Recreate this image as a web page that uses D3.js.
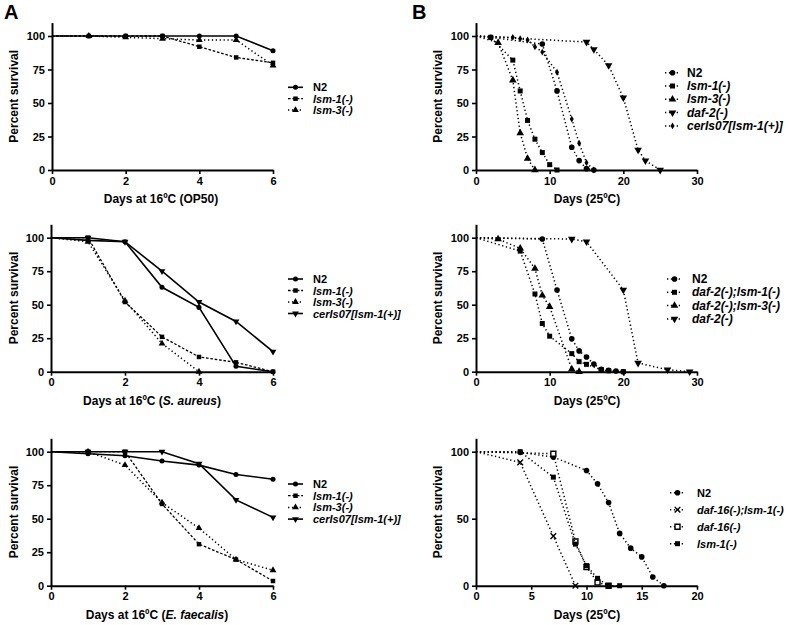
<!DOCTYPE html>
<html><head><meta charset="utf-8">
<script src="https://cdn.jsdelivr.net/npm/d3@7"></script>
<style>
body{margin:0;background:#fff;}
svg{font-family:"Liberation Sans",Arial,sans-serif;font-weight:bold;}
</style></head><body>
<svg id="c" width="789" height="625"></svg>
<script>
// ---------- DATA ----------
// Panel A1 (OP50)
const a1Days = [0,1,2,3,4,5,6];
const a1N2   = [100,100,100,100,100,100,89];
const a1Lsm1 = [100,100,100,100,92,84,80];
const a1Lsm3 = [100,100,99,98,97,97,78];
// Panel A2 (S. aureus)
const a2Days    = [0,1,2,3,4,5,6];
const a2N2      = [100,98,97,63,48,4,0];
const a2Lsm1    = [100,100,52,26,11,7,0];
const a2Lsm3Days= [0,1,2,3,4];
const a2Lsm3    = [100,97,53,21,0];
const a2Cer     = [100,100,97,75,52,37.5,15];
// Panel A3 (E. faecalis)
const a3Days = [0,1,2,3,4,5,6];
const a3N2   = [100,98.5,97,93,90,83,79.5];
const a3Lsm1 = [100,100,100,61,31,19.5,3.5];
const a3Lsm3 = [100,100,90,62,43,19.5,11.5];
const a3Cer  = [100,100,100,100,91,64,51];
// Panel B1
const b1N2Days   = [0,2,9,11,13,14,15,16];
const b1N2       = [100,99,94,59,17,7,1,0];
const b1Lsm1Days = [0,2,5,6,7,8,9,10,11];
const b1Lsm1     = [100,99,82,59,37,23,13,4,0];
const b1Lsm3Days = [0,3,5,6,7,8];
const b1Lsm3     = [100,95,67,27.5,8.5,0];
const b1Daf2Days = [0,15,16,18,20,22,23,25];
const b1Daf2     = [100,95.5,90,78,54,15,7,0];
const b1CerDays  = [0,5,6,7,8,9,11,13,14,15,16];
const b1Cer      = [100,99,98,97,92,88,73,38,20,5.5,0];
// Panel B2
const b2N2Days     = [0,9,11,13,14,15,16,17,18,19,20];
const b2N2         = [100,99,61,24.5,15.5,11,5.7,1.7,1,0.5,0];
const b2D2L1Days   = [0,6,8,9,10,13,14,15,17,18,20];
const b2D2L1       = [100,90,58,36,26.5,13.5,7.5,5.5,1.5,0.7,0];
const b2D2L3Days   = [0,3,6,8,9,10,13,14];
const b2D2L3       = [100,99,92,77,57,48.5,2,0];
const b2Daf2Days   = [0,13,15,20,22,26,29];
const b2Daf2       = [100,99,97,61,6.5,1.5,0];
// Panel B3
const b3N2Days     = [0,4,7,10,11,12,13,14,15,16,17];
const b3N2         = [100,99.5,96,86,76,62,39,28,21.5,6.5,0];
const b3D16L1Days  = [0,4,7,9];
const b3D16L1      = [100,92,37,0];
const b3D16Days    = [0,7,9,10,11,12];
const b3D16        = [100,98.5,33,14,2.5,0];
const b3Lsm1Days   = [0,4,7,9,10,11,12,13];
const b3Lsm1       = [100,100,81,31,15,5.5,0,0];

// tick labels
const yTicks4 = [0,25,50,75,100];
const yTicks2 = [0,50,100];
const xTicksA = [0,2,4,6];
const xTicksB = [0,10,20,30];
const xTicksB3 = [0,5,10,15,20];

// ---------- DRAW ----------
const svg = d3.select("#c");
const zip = (d,v)=>d.map((x,i)=>[x,v[i]]);

const S = {
  solid:{dash:null,w:1.6},
  dashed:{dash:"2.6,1.8",w:1.3},
  dotted:{dash:"1.3,2.6",w:1.5}
};
const SYM = {
  circle:d3.symbolCircle, square:d3.symbolSquare, up:d3.symbolTriangle,
  down:d3.symbolTriangle, diamond:d3.symbolDiamond, x:d3.symbolX, open:d3.symbolSquare
};
function marker(g,type,cx,cy,size){
  let sz = size;
  if(type==="x") sz = size*0.9;
  if(type==="diamond") sz = size*0.55;
  const p = g.append("path").attr("d",d3.symbol().type(SYM[type]).size(sz)())
    .attr("transform",`translate(${cx},${cy})`+(type==="down"?" rotate(180)":""));
  if(type==="x") p.attr("fill","none").attr("stroke","#000").attr("stroke-width",1.4);
  else if(type==="open") p.attr("fill","#fff").attr("stroke","#000").attr("stroke-width",1.4);
  else p.attr("fill","#000");
}

function panel(cfg){
  const g = svg.append("g");
  const x = d3.scaleLinear().domain(cfg.xd).range([cfg.x0,cfg.x1]);
  const y = d3.scaleLinear().domain([0,110]).range([cfg.y0,cfg.y0-134*1.1]);
  cfg.series.forEach(s=>{
    const pts = zip(s.days,s.vals);
    const st = S[s.style];
    g.append("path").attr("d",d3.line().x(d=>x(d[0])).y(d=>y(d[1]))(pts))
      .attr("fill","none").attr("stroke","#000").attr("stroke-width",st.w)
      .attr("stroke-dasharray",st.dash);
    pts.slice(1).forEach(d=>marker(g,s.sym,x(d[0]),y(d[1]),cfg.msize));
  });
  const ax = g.append("g").attr("transform",`translate(0,${cfg.y0})`)
    .call(d3.axisBottom(x).tickValues(cfg.xt).tickFormat(d3.format("d")).tickSize(4).tickSizeOuter(0).tickPadding(3));
  const ay = g.append("g").attr("transform",`translate(${cfg.x0},0)`)
    .call(d3.axisLeft(y).tickValues(cfg.yt).tickFormat(d3.format("d")).tickSize(4).tickSizeOuter(0).tickPadding(3));
  [ax,ay].forEach(a=>{
    a.select(".domain").attr("stroke-width",2);
    a.selectAll(".tick line").attr("stroke-width",1.6);
    a.selectAll("text").attr("font-size",11).attr("font-weight","bold")
      .attr("font-family","'Liberation Sans',Arial,sans-serif").attr("fill","#000");
  });
  const xl = g.append("text").attr("x",cfg.xlx).attr("y",cfg.y0+33)
    .attr("text-anchor","middle").attr("font-size",12);
  cfg.xlabel.forEach(p=>xl.append("tspan").text(p[0]).attr("font-style",p[1]?"italic":"normal"));
  const cy = cfg.y0-134*0.55;
  g.append("text").attr("transform",`translate(${cfg.ylx},${cy}) rotate(-90)`)
    .attr("text-anchor","middle").attr("font-size",12).text("Percent survival");
  cfg.series.forEach((s,i)=>{
    const ly = cfg.leg.y + i*cfg.leg.dy;
    const st = S[s.style];
    g.append("line").attr("x1",cfg.leg.x).attr("x2",cfg.leg.x+15).attr("y1",ly).attr("y2",ly)
      .attr("stroke","#000").attr("stroke-width",st.w).attr("stroke-dasharray",st.dash);
    marker(g,s.sym,cfg.leg.x+7.5,ly,cfg.msize);
    g.append("text").attr("x",cfg.leg.tx).attr("y",ly+4).attr("font-size",cfg.leg.fs)
      .attr("font-style",s.it?"italic":"normal").text(s.name);
  });
}

panel({x0:52,x1:273,y0:170,xd:[0,6],xt:xTicksA,yt:yTicks4,xlx:161,ylx:18,msize:20,
  xlabel:[["Days at 16ºC (OP50)",0]],
  leg:{x:288,tx:313,y:87.3,dy:11.4,fs:11},
  series:[
    {name:"N2",it:0,days:a1Days,vals:a1N2,style:"solid",sym:"circle"},
    {name:"lsm-1(-)",it:1,days:a1Days,vals:a1Lsm1,style:"dashed",sym:"square"},
    {name:"lsm-3(-)",it:1,days:a1Days,vals:a1Lsm3,style:"dotted",sym:"up"}
  ]});
panel({x0:51,x1:273,y0:371.7,xd:[0,6],xt:xTicksA,yt:yTicks4,xlx:152,ylx:18,msize:20,
  xlabel:[["Days at 16ºC (",0],["S. aureus",1],[")",0]],
  leg:{x:288,tx:313,y:279,dy:11.5,fs:11},
  series:[
    {name:"N2",it:0,days:a2Days,vals:a2N2,style:"solid",sym:"circle"},
    {name:"lsm-1(-)",it:1,days:a2Days,vals:a2Lsm1,style:"dashed",sym:"square"},
    {name:"lsm-3(-)",it:1,days:a2Lsm3Days,vals:a2Lsm3,style:"dotted",sym:"up"},
    {name:"cerIs07[lsm-1(+)]",it:1,days:a2Days,vals:a2Cer,style:"solid",sym:"down"}
  ]});
panel({x0:51,x1:273,y0:585.7,xd:[0,6],xt:xTicksA,yt:yTicks4,xlx:157,ylx:18,msize:20,
  xlabel:[["Days at 16ºC (",0],["E. faecalis",1],[")",0]],
  leg:{x:288,tx:313,y:484,dy:11.7,fs:11},
  series:[
    {name:"N2",it:0,days:a3Days,vals:a3N2,style:"solid",sym:"circle"},
    {name:"lsm-1(-)",it:1,days:a3Days,vals:a3Lsm1,style:"dashed",sym:"square"},
    {name:"lsm-3(-)",it:1,days:a3Days,vals:a3Lsm3,style:"dotted",sym:"up"},
    {name:"cerIs07[lsm-1(+)]",it:1,days:a3Days,vals:a3Cer,style:"solid",sym:"down"}
  ]});
panel({x0:476,x1:697,y0:170,xd:[0,30],xt:xTicksB,yt:yTicks4,xlx:587,ylx:442,msize:25,
  xlabel:[["Days (25ºC)",0]],
  leg:{x:665,tx:687,y:72.7,dy:13.3,fs:12},
  series:[
    {name:"N2",it:0,days:b1N2Days,vals:b1N2,style:"dotted",sym:"circle"},
    {name:"lsm-1(-)",it:1,days:b1Lsm1Days,vals:b1Lsm1,style:"dotted",sym:"square"},
    {name:"lsm-3(-)",it:1,days:b1Lsm3Days,vals:b1Lsm3,style:"dotted",sym:"up"},
    {name:"daf-2(-)",it:1,days:b1Daf2Days,vals:b1Daf2,style:"dotted",sym:"down"},
    {name:"cerIs07[lsm-1(+)]",it:1,days:b1CerDays,vals:b1Cer,style:"dotted",sym:"diamond"}
  ]});
panel({x0:476,x1:697,y0:371.7,xd:[0,30],xt:xTicksB,yt:yTicks4,xlx:587,ylx:442,msize:25,
  xlabel:[["Days (25ºC)",0]],
  leg:{x:667,tx:692,y:279,dy:13.3,fs:12},
  series:[
    {name:"N2",it:0,days:b2N2Days,vals:b2N2,style:"dotted",sym:"circle"},
    {name:"daf-2(-);lsm-1(-)",it:1,days:b2D2L1Days,vals:b2D2L1,style:"dotted",sym:"square"},
    {name:"daf-2(-);lsm-3(-)",it:1,days:b2D2L3Days,vals:b2D2L3,style:"dotted",sym:"up"},
    {name:"daf-2(-)",it:1,days:b2Daf2Days,vals:b2Daf2,style:"dotted",sym:"down"}
  ]});
panel({x0:476,x1:697,y0:585.7,xd:[0,20],xt:xTicksB3,yt:yTicks2,xlx:587,ylx:442,msize:25,
  xlabel:[["Days (25ºC)",0]],
  leg:{x:670,tx:697,y:492.7,dy:17,fs:11},
  series:[
    {name:"N2",it:0,days:b3N2Days,vals:b3N2,style:"dotted",sym:"circle"},
    {name:"daf-16(-);lsm-1(-)",it:1,days:b3D16L1Days,vals:b3D16L1,style:"dotted",sym:"x"},
    {name:"daf-16(-)",it:1,days:b3D16Days,vals:b3D16,style:"dotted",sym:"open"},
    {name:"lsm-1(-)",it:1,days:b3Lsm1Days,vals:b3Lsm1,style:"dotted",sym:"square"}
  ]});

svg.append("text").attr("x",4).attr("y",19).attr("font-size",20).text("A");
svg.append("text").attr("x",412).attr("y",19).attr("font-size",20).text("B");
</script></body></html>
